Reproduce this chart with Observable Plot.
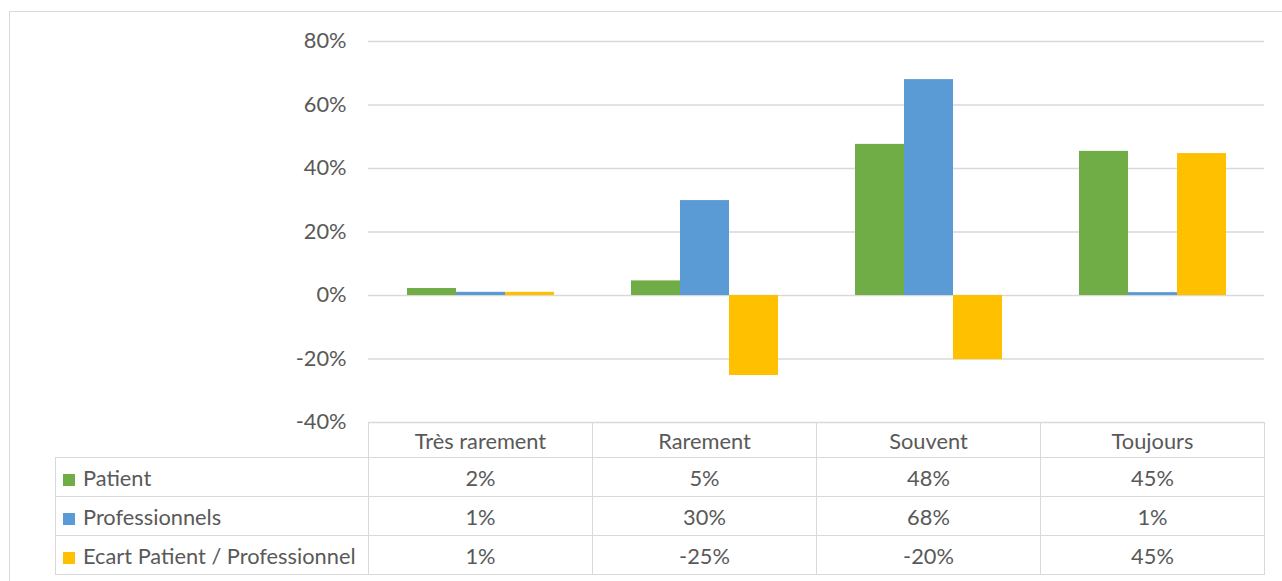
<!DOCTYPE html>
<html>
<head>
<meta charset="utf-8">
<script src="https://cdn.jsdelivr.net/npm/d3@7"></script>
<script src="https://cdn.jsdelivr.net/npm/@observablehq/plot@0.6"></script>
<style>
  html, body { margin: 0; padding: 0; background: #fff; overflow: hidden; }
  #wrap { position: relative; width: 1282px; height: 581px; font-family: Lato, "Open Sans", sans-serif; color: #595959; }
  #frame { position: absolute; left: 9px; top: 11px; width: 1300px; height: 620px; border: 1px solid #d9d9d9; }
  #chart { position: absolute; left: 0; top: 0; }
  table.dt { position: absolute; border-collapse: collapse; font-size: 21.8px; font-weight: 400; color: #595959; table-layout: fixed; }
  table.dt td { border: 1.5px solid #d9d9d9; text-align: center; padding: 0; white-space: nowrap; overflow: hidden; }
  table.dt td.lab { text-align: left; padding-left: 7px; }
  table.dt td.corner { border-top-style: hidden; border-left-style: hidden; }
  .sw { display: inline-block; width: 12px; height: 12px; margin-right: 8px; vertical-align: 0px; }
</style>
</head>
<body>
<div id="wrap">
  <div id="frame"></div>
  <div id="chart"></div>
</div>
<script>
const categories = ["Très rarement", "Rarement", "Souvent", "Toujours"];
const seriesNames = ["Patient", "Professionnels", "Ecart Patient / Professionnel"];
const seriesColors = ["#70ad47", "#5b9bd5", "#ffc000"];
const patient = [0.022, 0.046, 0.476, 0.454];
const professionnels = [0.010, 0.299, 0.680, 0.009];
const ecart = [0.010, -0.252, -0.202, 0.447];
const yTicks = [-0.4, -0.2, 0, 0.2, 0.4, 0.6, 0.8];

const seriesValues = [patient, professionnels, ecart];
const data = [];
seriesNames.forEach((s, i) => categories.forEach((c, j) => data.push({category: c, series: s, value: seriesValues[i][j]})));

const pct = d => Math.round(d * 100) + "%";

const W = 1282;
const plot = Plot.plot({
  width: W,
  height: 445,
  marginLeft: 367,
  marginRight: 17,
  marginTop: 41,
  marginBottom: 23,
  style: {fontFamily: "Lato, 'Open Sans', sans-serif", fontSize: "21.8px", fontWeight: 400, color: "#595959", background: "transparent", overflow: "visible"},
  fx: {domain: categories, padding: 0, axis: null},
  x: {domain: seriesNames, paddingInner: 0, paddingOuter: 0.745, axis: null},
  y: {domain: [-0.4, 0.8], ticks: yTicks, tickFormat: pct, tickSize: 0, tickPadding: 22, label: null},
  color: {domain: seriesNames, range: seriesColors},
  marks: [
    Plot.ruleY(yTicks, {stroke: "#d9d9d9", strokeWidth: 1.5, strokeOpacity: 1}),
    Plot.barY(data, {fx: "category", x: "series", y1: 0, y2: "value", fill: "series"})
  ]
});
document.getElementById("chart").appendChild(plot);

// data table aligned with the facet bands
const fx = plot.scale("fx");
const bw = fx.bandwidth;
const x0 = fx.apply(categories[0]);
const labLeft = 55;
const table = document.createElement("table");
table.className = "dt";
table.style.left = labLeft + "px";
table.style.top = "422px";
const colgroup = document.createElement("colgroup");
const c0 = document.createElement("col"); c0.style.width = (x0 - labLeft) + "px"; colgroup.appendChild(c0);
categories.forEach(() => { const c = document.createElement("col"); c.style.width = bw + "px"; colgroup.appendChild(c); });
table.appendChild(colgroup);
const head = document.createElement("tr");
head.style.height = "35px";
const corner = document.createElement("td"); corner.className = "corner"; head.appendChild(corner);
categories.forEach(c => { const td = document.createElement("td"); td.textContent = c; head.appendChild(td); });
table.appendChild(head);
seriesNames.forEach((s, i) => {
  const tr = document.createElement("tr");
  tr.style.height = "39px";
  const lab = document.createElement("td"); lab.className = "lab";
  const sw = document.createElement("span"); sw.className = "sw"; sw.style.background = seriesColors[i];
  lab.appendChild(sw); lab.appendChild(document.createTextNode(s));
  tr.appendChild(lab);
  seriesValues[i].forEach(v => { const td = document.createElement("td"); td.textContent = pct(v); tr.appendChild(td); });
  table.appendChild(tr);
});
document.getElementById("wrap").appendChild(table);
</script>
</body>
</html>
